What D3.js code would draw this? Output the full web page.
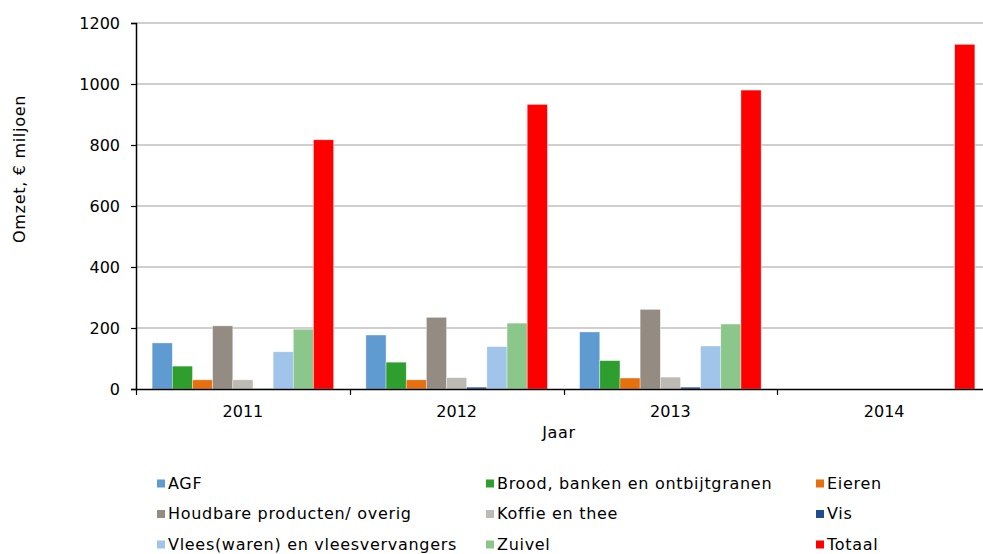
<!DOCTYPE html>
<html>
<head>
<meta charset="utf-8">
<script src="https://cdn.jsdelivr.net/npm/d3@7"></script>
<style>
  body { margin: 0; background: #fff; }
  svg text { font-family: Verdana, "DejaVu Sans", sans-serif; font-size: 16px; fill: #000; }
  .wide { letter-spacing: 0.7px; }
</style>
</head>
<body>
<svg id="chart"></svg>
<script>
// data
const years = ['2011', '2012', '2013', '2014'];
const series = ['AGF', 'Brood, banken en ontbijtgranen', 'Eieren', 'Houdbare producten/ overig',
  'Koffie en thee', 'Vis', 'Vlees(waren) en vleesvervangers', 'Zuivel', 'Totaal'];
const agf      = [151, 177, 187, null];
const brood    = [75, 88, 93, null];
const eieren   = [30, 30, 36, null];
const houdbaar = [207, 235, 261, null];
const koffie   = [30, 37, 39, null];
const vis      = [1, 6, 6, null];
const vlees    = [122, 139, 141, null];
const zuivel   = [196, 216, 213, null];
const totaal   = [817, 933, 980, 1130];
const yTicks = [0, 200, 400, 600, 800, 1000, 1200];

const colors = ['#5f9bd0', '#2e9e2e', '#e7700e', '#948b83', '#bdb9b3', '#1f4e8c', '#a1c4eb', '#8bc68a', '#ff0000'];
const values = [agf, brood, eieren, houdbaar, koffie, vis, vlees, zuivel, totaal];

const width = 983, height = 554;
const margin = { left: 136, top: 23, right: -8, bottom: 165 };

const svg = d3.select('#chart').attr('width', width).attr('height', height);

const x0 = d3.scaleBand()
  .domain(years)
  .range([margin.left, width - margin.right]);

const x1 = d3.scaleBand()
  .domain(series)
  .range([0, x0.bandwidth()])
  .paddingOuter(0.8);

const y = d3.scaleLinear()
  .domain([0, 1200])
  .range([height - margin.bottom, margin.top]);

// gridlines
svg.append('g')
  .selectAll('line')
  .data(yTicks.filter(d => d > 0))
  .join('line')
  .attr('x1', margin.left)
  .attr('x2', width - margin.right)
  .attr('y1', d => y(d))
  .attr('y2', d => y(d))
  .attr('stroke', '#a0a0a0')
  .attr('stroke-width', 1.2);

// bars
const groups = svg.append('g')
  .selectAll('g')
  .data(years)
  .join('g')
  .attr('transform', d => `translate(${x0(d)},0)`);

groups.selectAll('rect')
  .data((yr, i) => series.map((s, j) => ({ s, j, v: values[j][i] })).filter(d => d.v != null))
  .join('rect')
  .attr('x', d => x1(d.s))
  .attr('width', x1.bandwidth())
  .attr('y', d => y(d.v))
  .attr('height', d => y(0) - y(d.v))
  .attr('fill', d => colors[d.j])
  .attr('stroke', 'rgba(255,255,255,0.6)')
  .attr('stroke-width', 0.6);

// y axis
const yAxis = svg.append('g')
  .attr('transform', `translate(${margin.left},0)`)
  .call(d3.axisLeft(y).tickValues(yTicks).tickFormat(d3.format('d')).tickSize(5).tickPadding(11));
yAxis.select('.domain').attr('stroke', '#000').attr('stroke-width', 1.5);
yAxis.selectAll('.tick line').attr('stroke', '#000').attr('stroke-width', 1.2);
yAxis.selectAll('text').style('font-size', '16px').style('font-family', 'Verdana, "DejaVu Sans", sans-serif');

// x axis
const xAxis = svg.append('g')
  .attr('transform', `translate(0,${y(0)})`)
  .call(d3.axisBottom(x0).tickSize(0).tickPadding(17));
xAxis.select('.domain').attr('stroke', '#000').attr('stroke-width', 1.5);
xAxis.selectAll('text').style('font-size', '16px').style('font-family', 'Verdana, "DejaVu Sans", sans-serif');

// group separator ticks
svg.append('g')
  .selectAll('line')
  .data(years)
  .join('line')
  .attr('x1', d => Math.round(x0(d)) + 0.5)
  .attr('x2', d => Math.round(x0(d)) + 0.5)
  .attr('y1', y(0))
  .attr('y2', y(0) + 6)
  .attr('stroke', '#000')
  .attr('stroke-width', 1.2);

// axis titles
svg.append('text')
  .attr('class', 'wide')
  .attr('transform', 'translate(25,169) rotate(-90)')
  .attr('text-anchor', 'middle')
  .text('Omzet, € miljoen');

svg.append('text')
  .attr('class', 'wide')
  .attr('x', 559)
  .attr('y', 438)
  .attr('text-anchor', 'middle')
  .text('Jaar');

// legend, three columns
const legendX = [157, 486, 816];
const legendY = [488.5, 519, 549.5];
const legend = svg.append('g')
  .selectAll('g')
  .data(series)
  .join('g')
  .attr('transform', (d, i) => `translate(${legendX[i % 3]},${legendY[Math.floor(i / 3)]})`);

legend.append('rect')
  .attr('x', 0)
  .attr('y', -9)
  .attr('width', 8)
  .attr('height', 8)
  .attr('fill', (d, i) => colors[i]);

legend.append('text')
  .attr('class', 'wide')
  .attr('x', 11)
  .attr('y', 0)
  .text(d => d);
</script>
</body>
</html>
